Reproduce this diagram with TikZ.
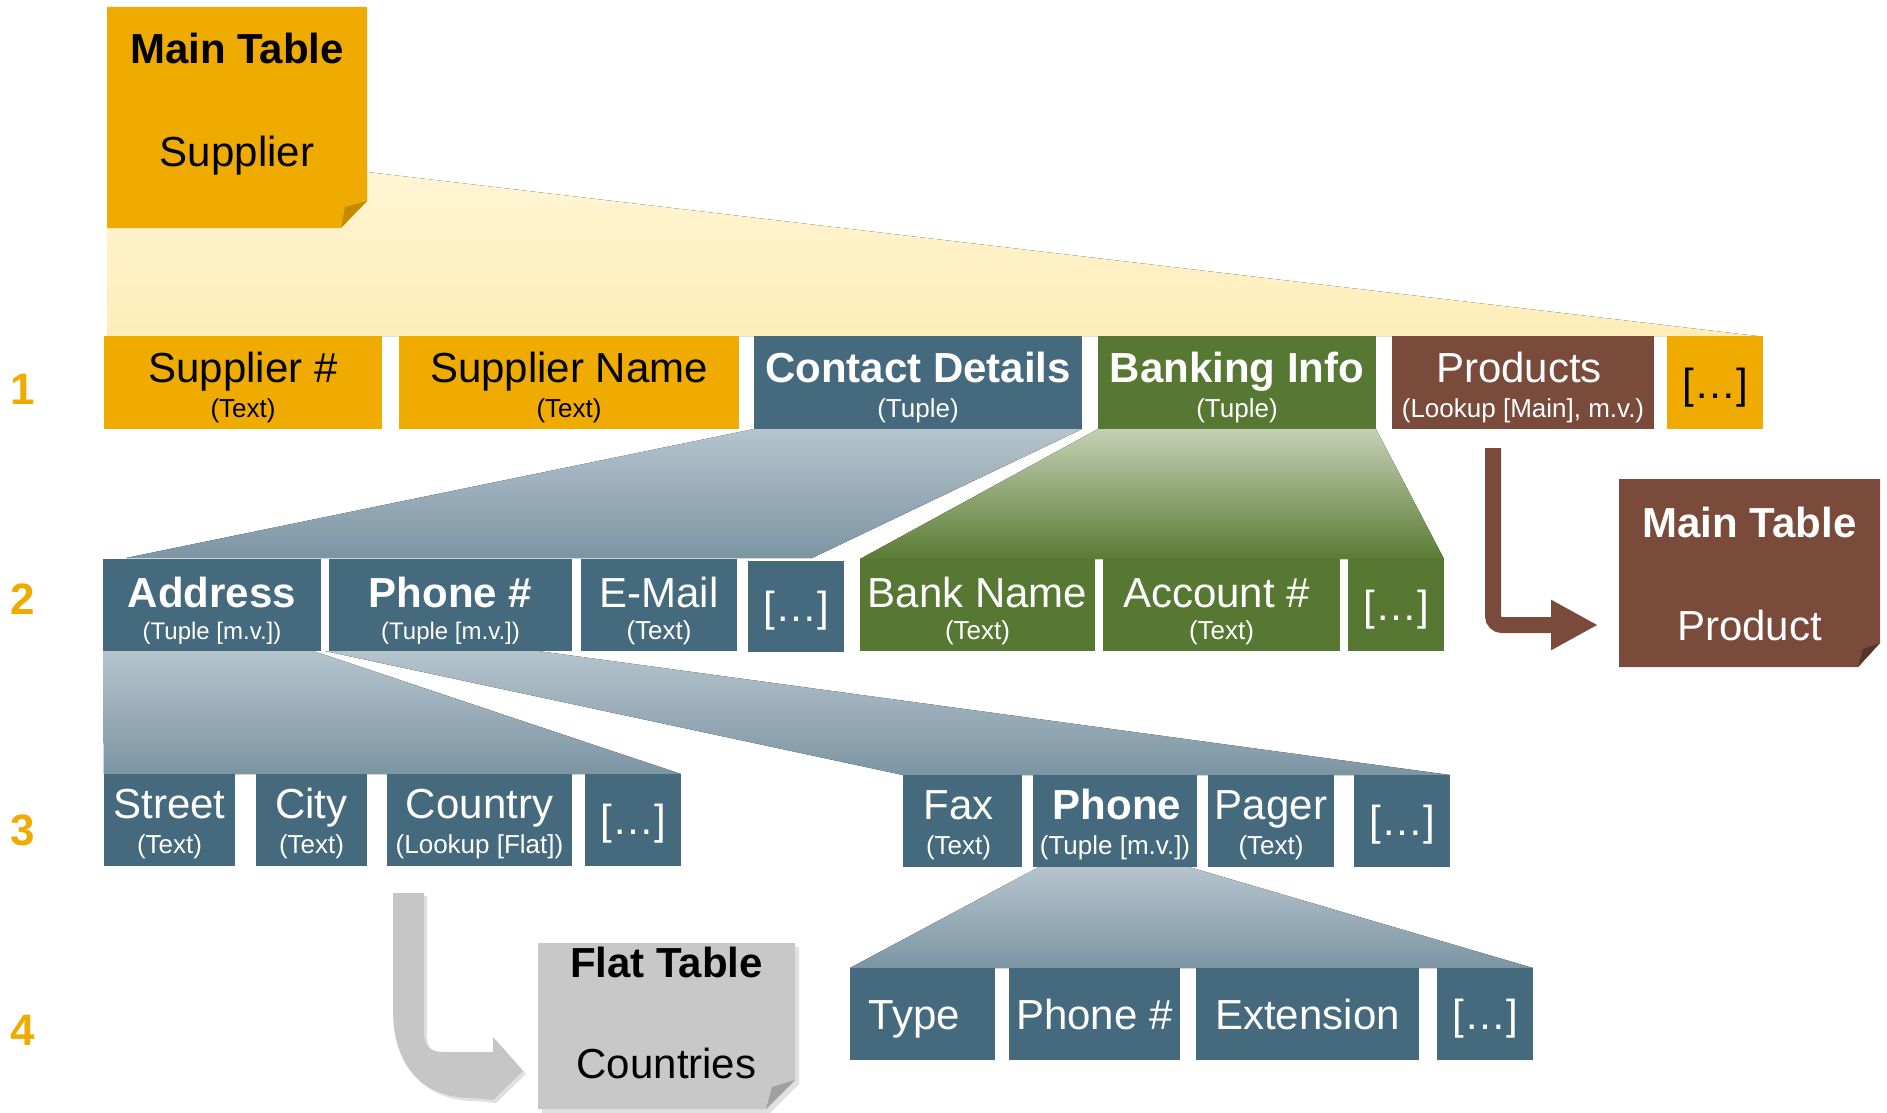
\documentclass[tikz,border=0pt]{standalone}
\usepackage{fontspec}
\setmainfont{Liberation Sans}
\usetikzlibrary{calc,fit,backgrounds,arrows.meta}
\definecolor{gold}{RGB}{240,171,0}
\definecolor{golddk}{RGB}{196,138,0}
\definecolor{bluec}{RGB}{69,105,125}
\definecolor{greenc}{RGB}{86,120,50}
\definecolor{brownc}{RGB}{122,74,58}
\definecolor{browndk}{RGB}{88,52,40}
\definecolor{greyc}{RGB}{200,200,200}
\definecolor{greydk}{RGB}{160,160,160}
\definecolor{arrowgrey}{RGB}{198,198,198}
\definecolor{ylt}{RGB}{255,245,212}
\definecolor{ylb}{RGB}{254,237,184}
\definecolor{blt}{RGB}{181,196,205}
\definecolor{blb}{RGB}{124,149,163}
\definecolor{glt}{RGB}{196,208,180}
\definecolor{glb}{RGB}{90,124,52}
\tikzset{
  cellsty/.style={inner sep=0pt, outer sep=0pt, draw=none},
  big/.style={font=\fontsize{42}{48}\selectfont, anchor=base, inner sep=0pt, outer sep=0pt},
  bigb/.style={font=\fontsize{42}{48}\selectfont\bfseries, anchor=base, inner sep=0pt, outer sep=0pt},
  small/.style={font=\fontsize{26}{30}\selectfont, anchor=base, inner sep=0pt, outer sep=0pt},
  smaller/.style={font=\fontsize{24}{28}\selectfont, anchor=base, inner sep=0pt, outer sep=0pt},
  rownum/.style={font=\fontsize{44}{50}\selectfont\bfseries, text=gold, anchor=base, inner sep=0pt},
  softshadow/.style={fill=black, opacity=0.12},
}
% box: name, x1, y1, x2, y2, fill
\newcommand\cellbox[6]{\node[cellsty, fill=#6, fit={(#2,#3) (#4,#5)}] (#1) {};}
% text in box: box name, suffix, style, colour, offset from top, text
\newcommand\ctext[6]{\node[#3, text=#4] (#1#2) at ($(#1.north)+(0,#5)$) {#6};}
% same with horizontal shift
\newcommand\ctextx[7]{\node[#3, text=#4] (#1#2) at ($(#1.north)+(#7,#5)$) {#6};}

\begin{document}
\begin{tikzpicture}[x=1pt,y=-1pt]
\useasboundingbox (0,0) rectangle (1887,1113);

% ---------- Row numbers
\node[rownum] (n1) at (23,404) {1};
\node[rownum] (n2) at (23,614) {2};
\node[rownum] (n3) at (23,845) {3};
\node[rownum] (n4) at (23,1045) {4};

% ---------- Main Table Supplier
\node[cellsty, fit={(107,7) (367,228)}] (mt) {};
\fill[gold] (mt.north west) -- (mt.north east) -- ($(mt.north east)+(0,194)$) -- ($(mt.south east)+(-26,0)$) -- (mt.south west) -- cycle;
\fill[golddk] ($(mt.north east)+(0,194)$) -- ($(mt.south east)+(-22,-21)$) -- ($(mt.south east)+(-26,0)$) -- cycle;
\node[bigb] (mtt) at ($(mt.north)+(0,57)$) {Main Table};
\node[big] (mts) at ($(mt.north)+(0,160)$) {Supplier};

% ---------- Row 1
\cellbox{s1}{104}{336}{382}{429}{gold}
\ctext{s1}{m}{big}{black}{46}{Supplier \#}
\ctext{s1}{s}{small}{black}{81}{(Text)}
\cellbox{s2}{399}{336}{739}{429}{gold}
\ctext{s2}{m}{big}{black}{46}{Supplier Name}
\ctext{s2}{s}{small}{black}{81}{(Text)}
\cellbox{cd}{754}{336}{1082}{429}{bluec}
\ctext{cd}{m}{bigb}{white}{46}{Contact Details}
\ctext{cd}{s}{small}{white}{81}{(Tuple)}
\cellbox{bi}{1098}{336}{1376}{429}{greenc}
\ctext{bi}{m}{bigb}{white}{46}{Banking Info}
\ctext{bi}{s}{small}{white}{81}{(Tuple)}
\cellbox{pr}{1392}{336}{1654}{429}{brownc}
\ctextx{pr}{m}{big}{white}{46}{Products}{-4}
\ctext{pr}{s}{small}{white}{81}{(Lookup [Main], m.v.)}
\cellbox{e1}{1667}{336}{1763}{429}{gold}
\ctext{e1}{m}{big}{black}{62}{[…]}

% ---------- Row 2
\cellbox{ad}{103}{559}{321}{651}{bluec}
\ctext{ad}{m}{bigb}{white}{48}{Address}
\ctext{ad}{s}{smaller}{white}{80}{(Tuple [m.v.])}
\cellbox{pn}{329}{559}{572}{651}{bluec}
\ctext{pn}{m}{bigb}{white}{48}{Phone \#}
\ctext{pn}{s}{smaller}{white}{80}{(Tuple [m.v.])}
\cellbox{em}{581}{559}{737}{651}{bluec}
\ctext{em}{m}{big}{white}{48}{E-Mail}
\ctext{em}{s}{small}{white}{80}{(Text)}
\cellbox{e2}{748}{561}{844}{652}{bluec}
\ctext{e2}{m}{big}{white}{60}{[…]}
\cellbox{bn}{860}{559}{1095}{651}{greenc}
\ctext{bn}{m}{big}{white}{48}{Bank Name}
\ctext{bn}{s}{small}{white}{80}{(Text)}
\cellbox{ac}{1103}{559}{1340}{651}{greenc}
\ctextx{ac}{m}{big}{white}{48}{Account \#}{-5}
\ctext{ac}{s}{small}{white}{80}{(Text)}
\cellbox{eg}{1348}{559}{1444}{651}{greenc}
\ctext{eg}{m}{big}{white}{61}{[…]}

% ---------- Main Table Product
\node[cellsty, fit={(1619,479) (1880,667)}] (pm) {};
\fill[brownc] (pm.north west) -- (pm.north east) -- ($(pm.north east)+(0,164)$) -- ($(pm.south east)+(-22,0)$) -- (pm.south west) -- cycle;
\fill[browndk] ($(pm.north east)+(0,164)$) -- ($(pm.south east)+(-17,-18)$) -- ($(pm.south east)+(-22,0)$) -- cycle;
\node[bigb, text=white] (pmt) at ($(pm.north)+(0,58)$) {Main Table};
\node[big, text=white] (pms) at ($(pm.north)+(0,161)$) {Product};

\coordinate (pa) at (1493,448);
\coordinate (pb) at (1598,625);
\draw[brownc, line width=16pt, rounded corners=9pt, -{Triangle[length=47pt,width=47pt]}] (pa) |- (pb);

% ---------- Row 3
\cellbox{st}{104}{774}{235}{866}{bluec}
\ctext{st}{m}{big}{white}{44}{Street}
\ctext{st}{s}{small}{white}{79}{(Text)}
\cellbox{ci}{256}{774}{367}{866}{bluec}
\ctext{ci}{m}{big}{white}{44}{City}
\ctext{ci}{s}{small}{white}{79}{(Text)}
\cellbox{co}{387}{774}{572}{866}{bluec}
\ctext{co}{m}{big}{white}{44}{Country}
\ctext{co}{s}{small}{white}{79}{(Lookup [Flat])}
\cellbox{ea}{585}{774}{681}{866}{bluec}
\ctext{ea}{m}{big}{white}{60}{[…]}
\cellbox{fx}{903}{775}{1022}{867}{bluec}
\ctextx{fx}{m}{big}{white}{44}{Fax}{-4}
\ctextx{fx}{s}{small}{white}{79}{(Text)}{-4}
\cellbox{pt}{1033}{775}{1197}{867}{bluec}
\ctextx{pt}{m}{bigb}{white}{44}{Phone}{2}
\ctext{pt}{s}{small}{white}{79}{(Tuple [m.v.])}
\cellbox{pg}{1208}{775}{1334}{867}{bluec}
\ctext{pg}{m}{big}{white}{44}{Pager}
\ctext{pg}{s}{small}{white}{79}{(Text)}
\cellbox{eb}{1354}{775}{1450}{867}{bluec}
\ctext{eb}{m}{big}{white}{60}{[…]}

% ---------- Row 4
\cellbox{ty}{850}{968}{995}{1060}{bluec}
\ctextx{ty}{m}{big}{white}{61}{Type}{-8}
\cellbox{pf}{1009}{968}{1180}{1060}{bluec}
\ctext{pf}{m}{big}{white}{61}{Phone \#}
\cellbox{ex}{1196}{968}{1419}{1060}{bluec}
\ctext{ex}{m}{big}{white}{61}{Extension}
\cellbox{ec}{1437}{968}{1533}{1060}{bluec}
\ctext{ec}{m}{big}{white}{61}{[…]}

% ---------- Flat Table Countries
\node[cellsty, fit={(538,943) (795,1109)}] (ft) {};
\fill[softshadow] ($(ft.north west)+(4,4)$) -- ($(ft.north east)+(4,4)$) -- ($(ft.north east)+(4,141)$) -- ($(ft.south east)+(-25,4)$) -- ($(ft.south west)+(4,4)$) -- cycle;
\fill[greyc] (ft.north west) -- (ft.north east) -- ($(ft.north east)+(0,137)$) -- ($(ft.south east)+(-29,0)$) -- (ft.south west) -- cycle;
\fill[greydk] ($(ft.north east)+(0,137)$) -- ($(ft.south east)+(-23,-22)$) -- ($(ft.south east)+(-29,0)$) -- cycle;
\node[bigb] (ftt) at ($(ft.north)+(0,34)$) {Flat Table};
\node[big] (fts) at ($(ft.north)+(0,135)$) {Countries};

% ---------- bent lookup arrow Country -> Flat Table
\coordinate (ga) at (co.south);
\begin{scope}[shift={(3,3)}]
\fill[softshadow] (393,893) -- (424,893) -- (424,1032) .. controls (424,1046) and (430,1052) .. (444,1052) -- (493,1052) -- (493,1037) -- (523,1071) -- (493,1100) -- (472,1098) .. controls (424,1098) and (393,1068) .. (393,1010) -- cycle;
\end{scope}
\fill[arrowgrey] (393,893) -- (424,893) -- (424,1032) .. controls (424,1046) and (430,1052) .. (444,1052) -- (493,1052) -- (493,1037) -- (523,1071) -- (493,1100) -- (472,1098) .. controls (424,1098) and (393,1068) .. (393,1010) -- cycle;

% ---------- Expansion wedges (behind)
\begin{scope}[on background layer]
\fill[white] (0,0) rectangle (1887,1113);
\fill[top color=ylt, bottom color=ylb] (mt.south west) -- ($(mt.north east)+(0,165)$) -- ($(e1.north east)+(-6,0)$) -- (mt.south west |- s1.north) -- cycle;
\fill[top color=blt, bottom color=blb] (cd.south west) -- (cd.south east) -- ($(em.north east)+(75,-1)$) -- ($(ad.north west)+(23,-1)$) -- cycle;
\fill[top color=glt, bottom color=glb] (bi.south west) -- (bi.south east) -- (eg.north east) -- (bn.north west) -- cycle;
\fill[top color=blt, bottom color=blb] (ad.south west) -- ($(ad.south east)+(-8,0)$) -- (ea.north east) -- (st.north west) -- cycle;
\fill[top color=blt, bottom color=blb] ($(pn.south west)+(-4,0)$) -- ($(pn.south east)+(-34,0)$) -- (eb.north east) -- (fx.north west) -- cycle;
\fill[top color=blt, bottom color=blb] ($(pt.south west)+(6,0)$) -- ($(pt.south east)+(-8,0)$) -- (ec.north east) -- (ty.north west) -- cycle;
\end{scope}
\end{tikzpicture}
\end{document}
